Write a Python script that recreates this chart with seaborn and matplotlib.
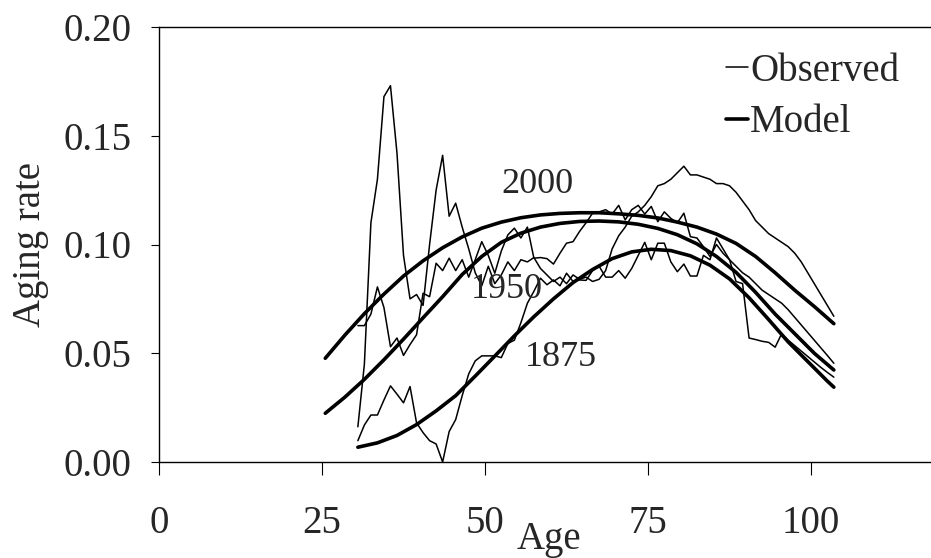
import numpy as np
import pandas as pd
import matplotlib
matplotlib.use("Agg")
import matplotlib.pyplot as plt
import seaborn as sns

# observed aging rates, one value per year of age (30.5 .. 103.5)
obs_age = np.arange(30.5, 104.0, 1.0)

obs_2000 = [0.0162, 0.0450, 0.1100, 0.1300, 0.1680, 0.1730, 0.1420, 0.0950, 0.0750, 0.0770,
            0.0720, 0.1000, 0.1250, 0.1410, 0.1130, 0.1190, 0.1080, 0.0980, 0.0870, 0.0810,
            0.0900, 0.0820, 0.0860, 0.0920, 0.0880, 0.0930, 0.0920, 0.0940, 0.0890, 0.0860,
            0.0830, 0.0850, 0.0820, 0.0860, 0.0840, 0.0850, 0.0830, 0.0840, 0.0880, 0.0980,
            0.1040, 0.1080, 0.1130, 0.1150, 0.1180, 0.1220, 0.1270, 0.1280, 0.1300, 0.1330,
            0.1360, 0.1320, 0.1320, 0.1310, 0.1300, 0.1280, 0.1280, 0.1270, 0.1240, 0.1200,
            0.1160, 0.1110, 0.1080, 0.1050, 0.1030, 0.1010, 0.0990, 0.0960, 0.0920, 0.0870,
            0.0820, 0.0770, 0.0720, 0.0670]

obs_1950 = [0.0627, 0.0627, 0.0680, 0.0805, 0.0710, 0.0530, 0.0570, 0.0490, 0.0540, 0.0585,
            0.0776, 0.0760, 0.0914, 0.0880, 0.0937, 0.0880, 0.0930, 0.0850, 0.0930, 0.1013,
            0.0950, 0.0868, 0.0970, 0.1044, 0.1075, 0.1030, 0.1080, 0.0937, 0.0940, 0.0935,
            0.0910, 0.0960, 0.1006, 0.1013, 0.1060, 0.1100, 0.1144, 0.1150, 0.1160, 0.1140,
            0.1180, 0.1113, 0.1160, 0.1180, 0.1140, 0.1175, 0.1105, 0.1150, 0.1120, 0.1100,
            0.1144, 0.1036, 0.1030, 0.0990, 0.0945, 0.1000, 0.0960, 0.0930, 0.0900, 0.0870,
            0.0850, 0.0820, 0.0790, 0.0770, 0.0750, 0.0730, 0.0700, 0.0665, 0.0630, 0.0595,
            0.0560, 0.0525, 0.0490, 0.0454]

obs_1875 = [0.0098, 0.0170, 0.0216, 0.0216, 0.0285, 0.0350, 0.0312, 0.0272, 0.0347, 0.0180,
            0.0135, 0.0098, 0.0083, 0.0000, 0.0140, 0.0195, 0.0305, 0.0405, 0.0465, 0.0488,
            0.0488, 0.0488, 0.0480, 0.0545, 0.0560, 0.0640, 0.0730, 0.0785, 0.0845, 0.0815,
            0.0837, 0.0810, 0.0868, 0.0830, 0.0837, 0.0835, 0.0880, 0.0900, 0.0850, 0.0850,
            0.0880, 0.0845, 0.0890, 0.0950, 0.1010, 0.0930, 0.1006, 0.1006, 0.0920, 0.0875,
            0.0910, 0.0855, 0.0855, 0.0950, 0.0930, 0.1030, 0.0980, 0.0930, 0.0830, 0.0820,
            0.0570, 0.0563, 0.0555, 0.0550, 0.0528, 0.0590, 0.0560, 0.0535, 0.0510, 0.0485,
            0.0460, 0.0435, 0.0412, 0.0390]

# fitted model curves
model_age = np.arange(25.5, 104.0, 3.0)
model_2000 = [0.0477, 0.0583, 0.0682, 0.0772, 0.0855, 0.0925, 0.0985, 0.1035, 0.1075, 0.1103,
              0.1123, 0.1136, 0.1143, 0.1146, 0.1146, 0.1141, 0.1134, 0.1122, 0.1103, 0.1080,
              0.1048, 0.1005, 0.0945, 0.0870, 0.0790, 0.0715, 0.0636]
model_1950 = [0.0224, 0.0298, 0.0380, 0.0470, 0.0565, 0.0663, 0.0760, 0.0862, 0.0945, 0.1010,
              0.1052, 0.1080, 0.1097, 0.1106, 0.1108, 0.1104, 0.1093, 0.1074, 0.1045, 0.1003,
              0.0945, 0.0872, 0.0780, 0.0680, 0.0590, 0.0500, 0.0423]

model_age_1875 = list(np.arange(30.5, 103.0, 3.0)) + [103.5]
model_1875 = [0.0068, 0.0088, 0.0122, 0.0172, 0.0235, 0.0305, 0.0395, 0.0487, 0.0580, 0.0668,
              0.0750, 0.0825, 0.0885, 0.0935, 0.0966, 0.0978, 0.0972, 0.0948, 0.0905, 0.0842,
              0.0755, 0.0655, 0.0552, 0.0462, 0.0372, 0.0344]

year_labels = ["2000", "1950", "1875"]
label_age = [58.1, 53.3, 61.7]
label_rate = [0.1274, 0.0791, 0.0481]

sns.set_style("ticks")
plt.rcParams["font.family"] = ["Liberation Serif", "DejaVu Serif"]

fig = plt.figure(figsize=(9.31, 5.58), dpi=100)
ax = fig.add_axes([159 / 931, 96 / 558, 772 / 931, 435 / 558])

fs = 28

# observed (thin)
for i, ser in enumerate([obs_2000, obs_1950, obs_1875]):
    sns.lineplot(x=obs_age, y=ser, ax=ax, color="black", lw=1.1, sort=False,
                 estimator=None, label="Observed" if i == 0 else None)

# model (thick)
sns.lineplot(x=model_age, y=model_2000, ax=ax, color="black", lw=2.6, sort=False,
             estimator=None, label="Model")
sns.lineplot(x=model_age, y=model_1950, ax=ax, color="black", lw=2.6, sort=False,
             estimator=None)
sns.lineplot(x=model_age_1875, y=model_1875, ax=ax, color="black", lw=2.6, sort=False,
             estimator=None)

for t, a, r in zip(year_labels, label_age, label_rate):
    ax.text(a, r, t, fontsize=26, ha="center", va="center")

ax.set_xlim(0, 118.4)
ax.set_ylim(0, 0.20)
ax.set_xticks([0, 25, 50, 75, 100])
ax.set_yticks([0, 0.05, 0.10, 0.15, 0.20])
ax.set_yticklabels(["0.00", "0.05", "0.10", "0.15", "0.20"])
ax.tick_params(axis="both", labelsize=fs, direction="out", color="black", width=0.8)
ax.tick_params(axis="y", length=6, pad=14)
ax.tick_params(axis="x", length=9, pad=22)

ax.spines["right"].set_visible(False)
for s in ["left", "bottom", "top"]:
    ax.spines[s].set_linewidth(1.0)
    ax.spines[s].set_color("black")

ax.set_xlabel("Age", fontsize=fs)
ax.set_ylabel("Aging rate", fontsize=fs)
ax.xaxis.set_label_coords(0.505, -0.135)
ax.yaxis.set_label_coords(-0.142, 0.50)

ax.legend(loc="upper left", bbox_to_anchor=(0.735, 0.941), frameon=False, fontsize=fs,
          handlelength=0.55, handletextpad=0.06, labelspacing=0.38, borderpad=0,
          borderaxespad=0)

fig.savefig("out.png", dpi=100)
